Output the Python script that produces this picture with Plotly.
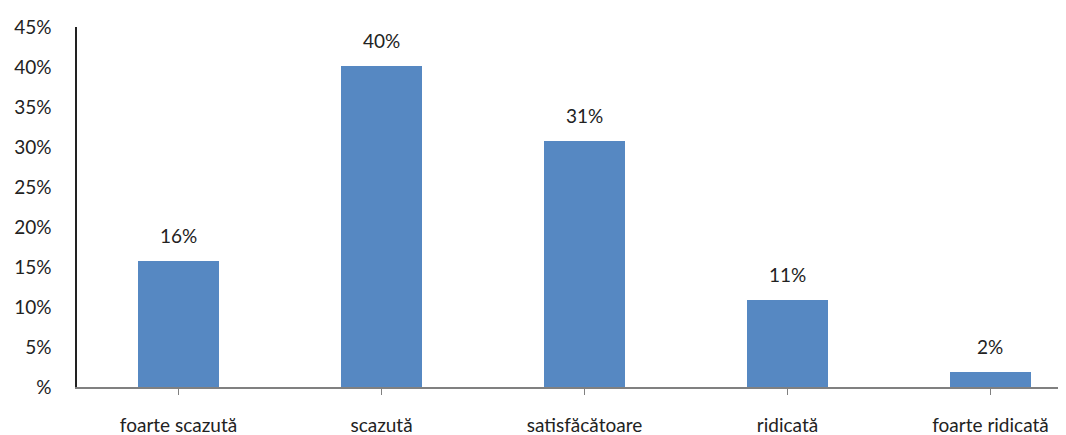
import plotly.graph_objects as go

categories = ["foarte scazută", "scazută", "satisfăcătoare", "ridicată", "foarte ridicată"]
values = [15.8, 40.1, 30.8, 10.9, 1.9]
labels = ["16%", "40%", "31%", "11%", "2%"]
y_tickvals = [0, 5, 10, 15, 20, 25, 30, 35, 40, 45]
y_ticktext = ["%", "5%", "10%", "15%", "20%", "25%", "30%", "35%", "40%", "45%"]

FONT = "Lato, Carlito, 'Open Sans', sans-serif"
xs = list(range(len(categories)))

fig = go.Figure()
fig.add_trace(go.Bar(
    x=xs, y=values, width=0.40,
    marker=dict(color="#5688C2", line=dict(width=0)),
    hoverinfo="skip",
))
for x, v, t in zip(xs, values, labels):
    fig.add_annotation(x=x, y=v, text=t, showarrow=False, yanchor="bottom",
                       yshift=12, font=dict(family=FONT, size=19, color="#222222"))

# page body has an 8px default margin, so the figure is sized to fill the window
fig.update_layout(
    width=1058, height=427,
    margin=dict(l=69, r=0, t=19, b=48, autoexpand=False),
    paper_bgcolor="white", plot_bgcolor="white",
    showlegend=False,
    font=dict(family=FONT, size=19, color="#222222"),
    bargap=0,
)
fig.update_xaxes(
    range=[-0.5, 4.372], tickvals=xs, ticktext=categories,
    showline=True, linecolor="#808080", linewidth=2,
    ticks="outside", ticklen=6, tickcolor="#808080", tickwidth=1,
    ticklabelstandoff=14, showgrid=False, zeroline=False, automargin=False,
    tickfont=dict(family=FONT, size=19, color="#222222"),
)
fig.update_yaxes(
    range=[0, 45], tickvals=y_tickvals, ticktext=y_ticktext,
    showline=True, linecolor="#222222", linewidth=1.5,
    ticks="", showgrid=False, zeroline=False, ticklabelstandoff=20, automargin=False,
    tickfont=dict(family=FONT, size=19, color="#222222"),
)

fig.write_html("out.html")
